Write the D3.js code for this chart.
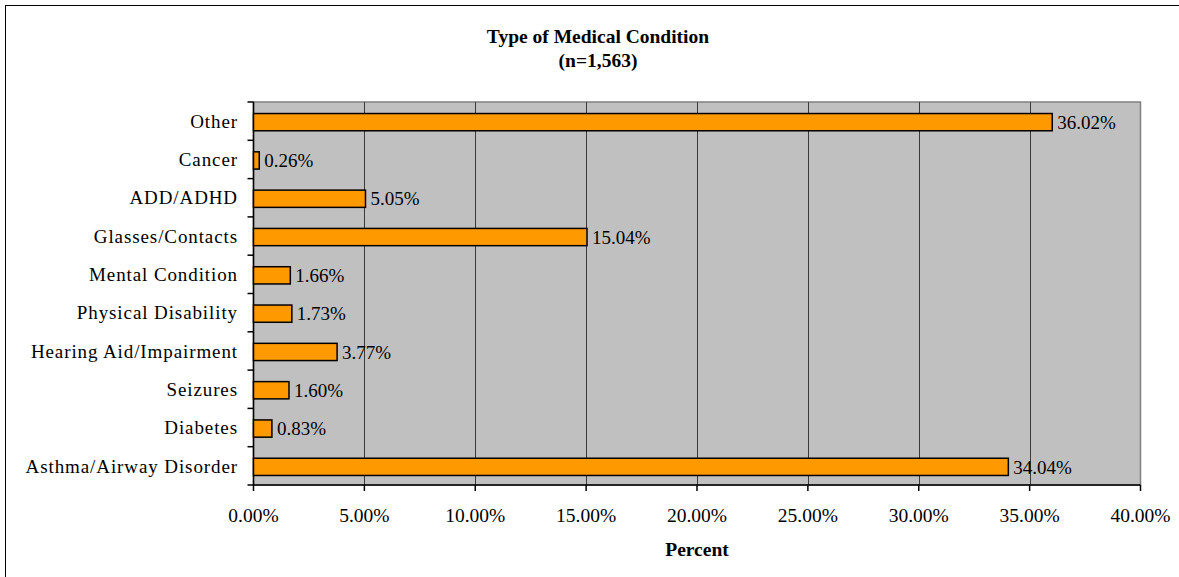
<!DOCTYPE html>
<html><head>
<meta charset="UTF-8">
<script src="https://cdn.jsdelivr.net/npm/d3@7"></script>
<style>
body{margin:0;background:#fff}
svg text{font-family:"Liberation Serif","Times New Roman",serif;fill:#000}
</style>
</head><body>
<svg id="chart" width="1179" height="577"></svg>
<script>
// categories top to bottom, as drawn
var categories = ["Other","Cancer","ADD/ADHD","Glasses/Contacts","Mental Condition",
  "Physical Disability","Hearing Aid/Impairment","Seizures","Diabetes","Asthma/Airway Disorder"];
var percents = [36.02, 0.26, 5.05, 15.04, 1.66, 1.73, 3.77, 1.60, 0.83, 34.04];
var xTicks = [0,5,10,15,20,25,30,35,40];

var svg = d3.select("#chart");
// outer chart frame (runs off the right and bottom edge)
svg.append("rect").attr("x",5.5).attr("y",5.5).attr("width",1190).attr("height",600)
  .attr("fill","#fff").attr("stroke","#000").attr("stroke-width",1);

var pLeft = 253.5, pRight = 1140.5, pTop = 102, pBottom = 485;
var x = d3.scaleLinear().domain([0,40]).range([pLeft,pRight]);
var y = d3.scaleBand().domain(categories).range([pTop,pBottom]).paddingInner(0.55).paddingOuter(0.275);
var yb = d3.scaleBand().domain(categories).range([pTop,pBottom]);

// plot area
svg.append("rect").attr("x",pLeft).attr("y",pTop).attr("width",pRight-pLeft).attr("height",pBottom-pTop)
  .attr("fill","#c0c0c0").attr("stroke","#808080").attr("stroke-width",1.5);

// gridlines
svg.selectAll(".grid").data(xTicks.slice(1,-1)).enter().append("line")
  .attr("x1",function(d){return Math.round(x(d))+0.5;}).attr("x2",function(d){return Math.round(x(d))+0.5;})
  .attr("y1",pTop).attr("y2",pBottom).attr("stroke","#3a3a3a").attr("stroke-width",1);

// y axis line and ticks at band boundaries
svg.append("line").attr("x1",pLeft).attr("x2",pLeft).attr("y1",pTop).attr("y2",pBottom)
  .attr("stroke","#000").attr("stroke-width",1.5);
var bounds = categories.map(function(c){return yb(c);}).concat([pBottom]);
svg.selectAll(".ytick").data(bounds).enter().append("line")
  .attr("x1",pLeft-6).attr("x2",pLeft).attr("y1",function(d){return d;}).attr("y2",function(d){return d;})
  .attr("stroke","#000").attr("stroke-width",1.5);

// x axis
svg.append("line").attr("x1",pLeft).attr("x2",pRight).attr("y1",pBottom).attr("y2",pBottom)
  .attr("stroke","#000").attr("stroke-width",1.5);
svg.selectAll(".xtick").data(xTicks).enter().append("line")
  .attr("x1",function(d){return x(d);}).attr("x2",function(d){return x(d);})
  .attr("y1",pBottom).attr("y2",pBottom+6).attr("stroke","#000").attr("stroke-width",1.5);
svg.selectAll(".xlab").data(xTicks).enter().append("text")
  .attr("x",function(d){return x(d);}).attr("y",521.5).attr("text-anchor","middle")
  .style("font-size","19.5px").text(function(d){return d.toFixed(2)+"%";});

// category labels
svg.selectAll(".ylab").data(categories).enter().append("text")
  .attr("x",238).attr("y",function(d){return yb(d)+yb.bandwidth()/2;}).attr("dy","0.35em")
  .attr("text-anchor","end").style("font-size","19px").style("letter-spacing","0.9px")
  .text(function(d){return d;});

// bars
svg.selectAll(".bar").data(percents).enter().append("rect")
  .attr("x",x(0)).attr("y",function(d,i){return y(categories[i])+1;})
  .attr("width",function(d){return x(d)-x(0);}).attr("height",y.bandwidth())
  .attr("fill","#ff9900").attr("stroke","#000").attr("stroke-width",1.5);

// value labels
svg.selectAll(".val").data(percents).enter().append("text")
  .attr("x",function(d){return x(d)+5;}).attr("y",function(d,i){return yb(categories[i])+yb.bandwidth()/2+1;})
  .attr("dy","0.35em").style("font-size","19px").text(function(d){return d.toFixed(2)+"%";});

// titles
svg.append("text").attr("x",598).attr("y",42.5).attr("text-anchor","middle")
  .style("font-size","19.5px").style("font-weight","bold").text("Type of Medical Condition");
svg.append("text").attr("x",598).attr("y",66.5).attr("text-anchor","middle")
  .style("font-size","19.5px").style("font-weight","bold").text("(n=1,563)");
svg.append("text").attr("x",(pLeft+pRight)/2).attr("y",555.5).attr("text-anchor","middle")
  .style("font-size","19.5px").style("font-weight","bold").text("Percent");
</script>
</body></html>
